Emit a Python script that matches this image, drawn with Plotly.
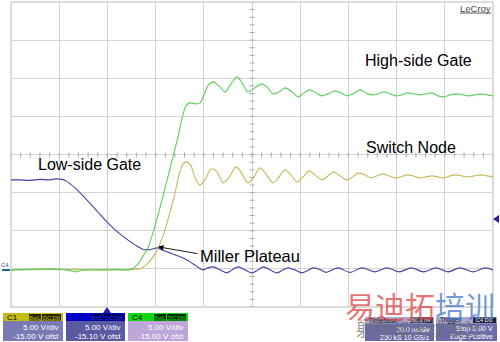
import plotly.graph_objects as go

# ---------------- data (time in ns, 20 ns/div; voltage in V, 5 V/div, -15 V offset) ----
low_t = [0, 3.7, 7.9, 12.0, 16.2, 18.3, 21.2, 22.8, 26.6, 30.7, 34.9, 39.8, 43.2, 47.3, 51.5,
         54.4, 56.8, 58.9, 60.6, 62.7, 66.0, 69.3, 72.2, 74.3, 76.8, 79.7, 81.7, 84.2, 86.7,
         89.6, 91.7, 94.2, 97.1, 100.0, 102.5, 104.6, 107.5, 110.4, 112.9, 114.9, 117.8, 120.7,
         123.7, 125.3, 128.6, 130.7, 135.7, 140.7, 145.6, 151.0, 156.0, 161.0, 166.0, 171.4,
         176.3, 181.3, 186.3, 191.7, 196.7, 200.0]
low_v = [11.67, 11.67, 11.61, 11.74, 11.67, 11.80, 11.74, 11.54, 10.62, 9.31, 7.87, 6.16, 5.11,
         4.07, 3.15, 2.62, 2.49, 2.62, 2.75, 2.49, 2.10, 1.70, 1.31, 0.92, 0.39, -0.13, 0.13,
         0.26, -0.13, -0.52, -0.13, 0.26, -0.13, -0.52, -0.13, 0.26, -0.13, -0.52, -0.13, 0.13,
         -0.13, -0.52, -0.13, 0.13, -0.13, -0.46, 0.13, -0.46, 0.13, -0.39, 0.13, -0.39, 0.13,
         -0.39, 0.13, -0.39, 0.13, -0.39, 0.13, -0.13]

high_t = [0, 7.9, 16.2, 22.8, 26.6, 30.7, 36.9, 43.2, 47.3, 50.2, 52.7, 54.8, 56.8, 58.9, 61.0,
          63.1, 65.1, 67.2, 69.3, 71.0, 72.6, 74.3, 76.4, 78.4, 80.1, 81.7, 83.8, 86.3, 88.8,
          91.3, 93.8, 95.9, 98.3, 101.2, 104.1, 106.6, 108.7, 111.2, 113.7, 116.6, 119.1, 121.6,
          124.1, 126.6, 129.0, 131.5, 134.4, 136.9, 139.4, 141.9, 144.8, 147.3, 149.8, 152.3,
          154.8, 157.3, 159.8, 162.2, 164.7, 167.2, 169.7, 172.2, 174.7, 177.2, 179.7, 182.2,
          185.1, 187.6, 190.0, 192.5, 195.0, 197.5, 200.0]
high_v = [-0.13, -0.07, 0.0, -0.13, -0.39, -0.13, -0.13, -0.07, -0.13, 0.0, 0.66, 1.70, 2.75,
          4.72, 7.08, 9.57, 12.07, 14.69, 17.31, 19.80, 21.38, 21.77, 21.64, 21.77, 22.82, 24.00,
          24.52, 24.00, 23.21, 24.26, 25.18, 24.39, 23.21, 23.74, 24.26, 23.74, 22.95, 23.21,
          23.74, 23.21, 22.56, 23.08, 23.48, 23.08, 22.69, 22.95, 23.34, 23.08, 22.69, 22.95,
          23.48, 23.08, 22.82, 22.95, 23.21, 22.95, 22.69, 22.82, 23.08, 22.95, 22.82, 22.95,
          23.08, 22.69, 22.56, 22.82, 22.95, 22.82, 22.69, 22.82, 22.95, 22.82, 22.69]

sw_t = [0, 16.2, 36.9, 51.5, 53.5, 55.6, 57.7, 59.8, 61.8, 63.9, 66.0, 68.1, 69.7, 71.4, 73.0,
        74.7, 76.4, 78.4, 80.5, 83.0, 85.5, 88.0, 90.4, 93.4, 95.9, 98.3, 100.8, 103.3, 105.8,
        108.7, 111.2, 113.7, 116.2, 118.7, 121.2, 123.7, 126.1, 129.0, 131.5, 134.0, 136.5,
        139.4, 141.9, 144.0, 146.9, 149.4, 151.9, 154.4, 156.8, 159.3, 161.8, 164.3, 166.8,
        169.7, 172.2, 174.7, 177.2, 179.7, 182.2, 184.6, 187.1, 189.6, 192.1, 195.0, 197.5, 200.0]
sw_v = [-0.13, -0.07, -0.13, -0.07, 0.0, 0.39, 1.05, 1.97, 3.28, 5.11, 7.48, 9.97, 12.33, 13.77,
        14.03, 13.51, 11.93, 11.02, 11.67, 13.11, 12.72, 11.28, 11.93, 13.38, 12.46, 11.28,
        12.07, 13.25, 12.46, 11.28, 12.07, 12.98, 12.33, 11.41, 12.07, 12.85, 12.33, 11.67,
        12.20, 12.72, 12.20, 11.67, 12.07, 12.59, 12.33, 11.93, 12.20, 12.46, 12.20, 11.93,
        12.07, 12.33, 12.20, 11.93, 12.07, 12.20, 12.07, 11.93, 12.20, 12.33, 12.20, 12.07,
        12.20, 12.33, 12.20, 12.07]

labels = ["High-side Gate", "Switch Node", "Low-side Gate", "Miller Plateau"]
ch_names = ["C1", "C2", "C4"]
ch_vdiv = ["5.00 V/div", "5.00 V/div", "5.00 V/div"]
ch_ofst = ["-15.00 V ofst", "-15.10 V ofst", "-15.00 V ofst"]

W, H = 500, 342
def PX(x): return x / W
def PY(y): return 1 - y / H

GREEN = "#5ccf5c"
YELLOW = "#c8b85a"
BLUE = "#4444a4"

fig = go.Figure()
fig.add_trace(go.Scatter(x=low_t, y=low_v, mode="lines", line=dict(color=BLUE, width=1.1, shape="spline", smoothing=0.8)))
fig.add_trace(go.Scatter(x=sw_t, y=sw_v, mode="lines", line=dict(color=YELLOW, width=1.1, shape="spline", smoothing=0.8)))
fig.add_trace(go.Scatter(x=high_t, y=high_v, mode="lines", line=dict(color=GREEN, width=1.1, shape="spline", smoothing=0.8)))

shapes = []
# center line minor ticks
for i in range(0, 51):
    t = i * 4.0
    shapes.append(dict(type="line", xref="x", yref="paper", x0=t, x1=t,
                       y0=PY(155) - 2.5 / H, y1=PY(155) + 2.5 / H, line=dict(color="#a8a8a8", width=1)))
for i in range(0, 41):
    v = -5 + i * 1.0
    shapes.append(dict(type="line", xref="paper", yref="y", x0=PX(252) - 2.5 / W, x1=PX(252) + 2.5 / W,
                       y0=v, y1=v, line=dict(color="#a8a8a8", width=1)))
# frame
shapes.append(dict(type="rect", xref="paper", yref="paper", x0=PX(11), x1=PX(493), y0=PY(307), y1=PY(2),
                   line=dict(color="#b8b8b8", width=1), layer="below"))
# trigger markers
shapes.append(dict(type="path", xref="paper", yref="paper",
                   path=f"M {PX(103)} {PY(313)} L {PX(111)} {PY(313)} L {PX(107)} {PY(307)} Z",
                   fillcolor="#2020a0", line=dict(width=0)))
shapes.append(dict(type="path", xref="paper", yref="paper",
                   path=f"M {PX(499)} {PY(215)} L {PX(499)} {PY(223)} L {PX(493)} {PY(219)} Z",
                   fillcolor="#2020a0", line=dict(width=0)))
# LeCroy underline
shapes.append(dict(type="line", xref="paper", yref="paper", x0=PX(460), x1=PX(491), y0=PY(13), y1=PY(13),
                   line=dict(color="#555555", width=1)))
# C4 ground marker
shapes.append(dict(type="line", xref="paper", yref="paper", x0=PX(2), x1=PX(10), y0=PY(270), y1=PY(270),
                   line=dict(color="#2060a0", width=2)))

annotations = []
def txt(s, x, y, size, color="black", anchor="center", yanchor="middle", family="Liberation Sans, Arial"):
    annotations.append(dict(text=s, xref="paper", yref="paper", x=PX(x), y=PY(y), showarrow=False,
                            xanchor=anchor, yanchor=yanchor, font=dict(size=size, color=color, family=family)))

# channel boxes
boxes = [(3, 63, "#c4bc10", "#7a7ab4", "black", "#2a2800", "#c4bc10"),
         (66, 125, "#0000c8", "#5a5aa0", "#0000c8", "#000060", "#3030e0"),
         (128, 188, "#12d812", "#bca6da", "black", "#003000", "#12d812")]
for (x0, x1, top, low, cname_col, tagbg, tagfg), nm, vd, of in zip(boxes, ch_names, ch_vdiv, ch_ofst):
    shapes.append(dict(type="rect", xref="paper", yref="paper", x0=PX(x0), x1=PX(x1), y0=PY(341), y1=PY(313),
                       fillcolor=low, line=dict(width=0)))
    shapes.append(dict(type="rect", xref="paper", yref="paper", x0=PX(x0), x1=PX(x1), y0=PY(321), y1=PY(313),
                       fillcolor=top, line=dict(width=0)))
    shapes.append(dict(type="rect", xref="paper", yref="paper", x0=PX(x1 - 34), x1=PX(x1 - 22), y0=PY(320.5), y1=PY(314),
                       fillcolor=tagbg, line=dict(width=0)))
    shapes.append(dict(type="rect", xref="paper", yref="paper", x0=PX(x1 - 21), x1=PX(x1 - 2), y0=PY(320.5), y1=PY(314),
                       fillcolor=tagbg, line=dict(width=0)))
    txt(nm, x0 + 2, 317.5, 8, cname_col, anchor="left")
    txt("BwL", x1 - 28, 317.5, 6, tagfg)
    txt("DC1M", x1 - 11.5, 317.5, 6, tagfg)
    txt(vd, x1 - 2, 327.5, 8, "white", anchor="right")
    txt(of, x1 - 2, 336, 8, "white", anchor="right")

# timebase / trigger boxes
for x0, x1, t1, t2, l1, l2 in [(365, 434, "Timebase", "-360.0 ns", "20.0 ns/div", "250 kS 10 GS/s"),
                               (436, 497, "Trigger", "C4 DC", "Stop 5.00 V", "Edge Positive")]:
    shapes.append(dict(type="rect", xref="paper", yref="paper", x0=PX(x0), x1=PX(x1), y0=PY(341), y1=PY(317),
                       fillcolor="#6c6ca8", line=dict(width=0)))
    shapes.append(dict(type="rect", xref="paper", yref="paper", x0=PX(x0), x1=PX(x1), y0=PY(323.5), y1=PY(317),
                       fillcolor="#a4a4cc", line=dict(width=0)))
    shapes.append(dict(type="rect", xref="paper", yref="paper", x0=PX(x1 - 24), x1=PX(x1 - 1), y0=PY(323), y1=PY(317.5),
                       fillcolor="#202040", line=dict(width=0)))
    txt(t1, x0 + 2, 320.3, 6.5, "black", anchor="left")
    txt(t2, x1 - 2, 320.3, 5.5, "white", anchor="right")
    txt(l1, x1 - 2, 329, 7, "white", anchor="right")
    txt(l2, x1 - 2, 337, 7, "white", anchor="right")

# trace labels
txt(labels[0], 418, 60, 16)
txt(labels[1], 411, 147, 16)
txt(labels[2], 89, 164, 16)
txt(labels[3], 250, 256, 16.5)
txt("LeCroy", 475.5, 8, 9.5, "#4a4a4a")
txt("C4", 5, 265, 6, "#2060a0")

# Miller plateau arrow
annotations.append(dict(x=61.0, y=2.89, ax=78.0, ay=1.97, xref="x", yref="y", axref="x", ayref="y",
                        text="", showarrow=True, arrowhead=2, arrowsize=1.2, arrowwidth=0.9, arrowcolor="black"))

# watermark
annotations.append(dict(text="<span style='color:rgba(220,70,70,0.75)'>易迪拓</span><span style='color:rgba(70,120,200,0.75)'>培训</span>",
                        xref="paper", yref="paper", x=PX(420), y=PY(305), showarrow=False, xanchor="center", yanchor="middle",
                        font=dict(size=30, family="Noto Sans CJK SC")))
annotations.append(dict(text="射频和天线设计", xref="paper", yref="paper", x=PX(419), y=PY(328), showarrow=False,
                        xanchor="center", yanchor="middle",
                        font=dict(size=18, color="rgba(110,110,110,0.7)", family="Noto Sans CJK SC")))

fig.update_layout(
    width=W, height=H, margin=dict(l=0, r=0, t=0, b=0),
    paper_bgcolor="white", plot_bgcolor="white", showlegend=False,
    xaxis=dict(domain=[PX(11), PX(493)], range=[0, 200], dtick=20, tick0=0, showgrid=True,
               gridcolor="#d4d4d4", gridwidth=1, zeroline=False, showticklabels=False, ticks="", showline=False),
    yaxis=dict(domain=[PY(307), PY(2)], range=[-5, 35], dtick=5, tick0=-5, showgrid=True,
               gridcolor="#d4d4d4", gridwidth=1, zeroline=False, showticklabels=False, ticks="", showline=False),
    shapes=shapes, annotations=annotations,
)
fig.write_html("out.html")
